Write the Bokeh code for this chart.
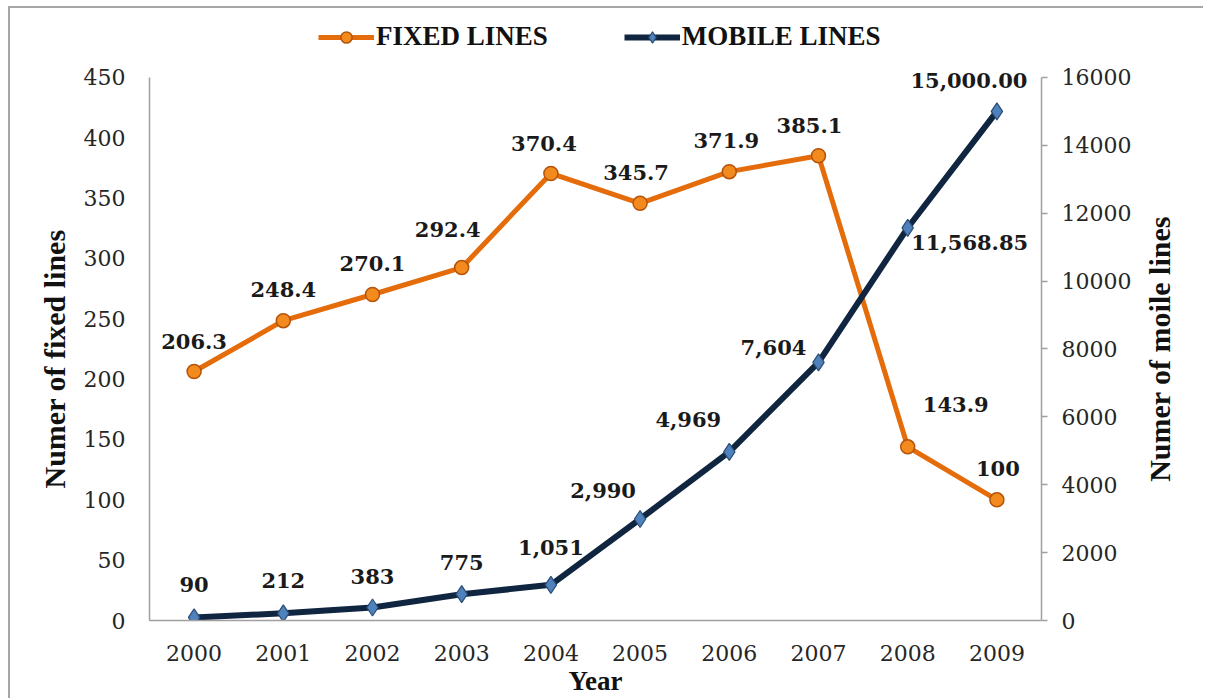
import math
from bokeh.plotting import figure
from bokeh.layouts import row
from bokeh.models import (Range1d, LinearAxis, FactorRange, ColumnDataSource,
                          Legend, LegendItem, FixedTicker)
from bokeh.core.properties import value
from bokeh.embed import file_html
from bokeh.resources import INLINE

# ---------------- data ----------------
years = ["2000", "2001", "2002", "2003", "2004", "2005", "2006", "2007", "2008", "2009"]
fixed_lines = [206.3, 248.4, 270.1, 292.4, 370.4, 345.7, 371.9, 385.1, 143.9, 100]
mobile_lines = [90, 212, 383, 775, 1051, 2990, 4969, 7604, 11568.85, 15000]
fixed_labels = ["206.3", "248.4", "270.1", "292.4", "370.4", "345.7", "371.9", "385.1", "143.9", "100"]
mobile_labels = ["90", "212", "383", "775", "1,051", "2,990", "4,969", "7,604", "11,568.85", "15,000.00"]
fixed_ticks = [0, 50, 100, 150, 200, 250, 300, 350, 400, 450]
mobile_ticks = [0, 2000, 4000, 6000, 8000, 10000, 12000, 14000, 16000]
x_title = "Year"
left_title = "Numer of fixed lines"
right_title = "Numer of moile lines"

# label placement (pixels, style only)
fixed_dx = [0, 0, 0, -14, -7, -4, -3, -9, 48, 1]
fixed_dy = [-30, -31, -31, -38, -30, -31, -31, -30, -42, -31]
mobile_dx = [0, 0, 0, 0, 0, -37, -41, -45, 62, -28]
mobile_dy = [-33, -33, -31, -32, -37, -29, -32, -15, 15, -31]

ORANGE = "#E46C0A"
NAVY = "#10253F"
SERIF = "DejaVu Serif"
TITLE_FONT = "Liberation Serif"
AX_COL = "#A0A0A0"

# geometry: frame spans the full height above the x axis; the y axes are
# bounded so that their lines stop at the top tick (legend sits above)
H = 690
BOTTOM = 77
FRAME_H = H - BOTTOM   # px, frame height
AXIS_H = 544           # px, height of the 0..max axis span
f_top = fixed_ticks[-1] * FRAME_H / AXIS_H
m_top = mobile_ticks[-1] * FRAME_H / AXIS_H
fixed_range = Range1d(0, f_top)
mobile_range = Range1d(0, m_top)

p = figure(width=1058, height=H, output_backend="svg", toolbar_location=None,
           x_range=FactorRange(factors=years, range_padding=0),
           y_range=fixed_range,
           min_border_left=67, min_border_right=97, min_border_top=0, min_border_bottom=BOTTOM)
p.extra_y_ranges = {"mob": mobile_range}
p.outline_line_color = None
p.xgrid.visible = False
p.ygrid.visible = False

src_f = ColumnDataSource(dict(x=years, y=fixed_lines, t=fixed_labels, dx=fixed_dx, dy=fixed_dy))
src_m = ColumnDataSource(dict(x=years, y=mobile_lines, t=mobile_labels, dx=mobile_dx, dy=mobile_dy))

lf = p.line("x", "y", source=src_f, line_color=ORANGE, line_width=5)
sf = p.scatter("x", "y", source=src_f, marker="circle", size=14,
               fill_color="#F28A1E", line_color="#B4530A", line_width=1.5)
lm = p.line("x", "y", source=src_m, y_range_name="mob", line_color=NAVY, line_width=6)
sm = p.scatter("x", "y", source=src_m, y_range_name="mob", marker="diamond", size=17,
               fill_color="#4F81BD", line_color="#2C4D75", line_width=1.2)

for src, rng in ((src_f, "default"), (src_m, "mob")):
    p.text("x", "y", text="t", source=src, y_range_name=rng, x_offset="dx", y_offset="dy",
           text_align="center", text_baseline="alphabetic",
           text_font=value(SERIF), text_font_style="bold", text_font_size="21px",
           text_color="#1a1a1a")

# x axis
xa = p.xaxis[0]
xa.axis_label = x_title
xa.axis_label_text_font = TITLE_FONT
xa.axis_label_text_font_style = "bold"
xa.axis_label_text_font_size = "27px"
xa.axis_label_text_color = "#111111"
xa.axis_label_standoff = 2
xa.major_label_text_font = SERIF
xa.major_label_text_font_size = "22px"
xa.major_label_text_color = "#262626"
xa.major_label_standoff = 18
xa.major_tick_line_color = None
xa.axis_line_color = AX_COL
xa.axis_line_width = 1.5

# left y axis
ya = p.yaxis[0]
ya.ticker = FixedTicker(ticks=fixed_ticks)
ya.bounds = (fixed_ticks[0], fixed_ticks[-1])
ya.major_label_text_font = SERIF
ya.major_label_text_font_size = "22px"
ya.major_label_text_color = "#262626"
ya.major_label_standoff = 18
ya.major_tick_line_color = None
ya.minor_tick_line_color = None
ya.axis_line_color = AX_COL
ya.axis_line_width = 1.5

# right y axis
ra = LinearAxis(y_range_name="mob", ticker=FixedTicker(ticks=mobile_ticks))
ra.bounds = (mobile_ticks[0], mobile_ticks[-1])
ra.major_label_text_font = SERIF
ra.major_label_text_font_size = "22px"
ra.major_label_text_color = "#262626"
ra.major_label_standoff = 14
ra.major_tick_out = 6
ra.major_tick_in = 0
ra.major_tick_line_color = AX_COL
ra.major_tick_line_width = 1.5
ra.minor_tick_line_color = None
ra.axis_line_color = AX_COL
ra.axis_line_width = 1.5
p.add_layout(ra, "right")

legend = Legend(items=[LegendItem(label="FIXED LINES", renderers=[lf, sf]),
                       LegendItem(label="MOBILE LINES", renderers=[lm, sm])],
                orientation="horizontal", location=(169, FRAME_H - 45),
                label_text_font=TITLE_FONT, label_text_font_style="bold",
                label_text_font_size="27px", label_text_color="#111111",
                glyph_width=56, glyph_height=28, label_height=28,
                label_standoff=2, spacing=76, padding=0, margin=0,
                border_line_color=None, background_fill_alpha=0)
p.add_layout(legend, "center")


# side strips carrying the rotated y-axis titles, centred on each axis span
def title_strip(width, x_range, y_range, text, y_mid, y_shift):
    f = figure(width=width, height=H, output_backend="svg", toolbar_location=None,
               x_range=x_range, y_range=y_range,
               x_axis_location=None, y_axis_location=None,
               min_border_left=0, min_border_right=0, min_border_top=0,
               min_border_bottom=BOTTOM)
    f.outline_line_color = None
    f.xgrid.visible = False
    f.ygrid.visible = False
    src = ColumnDataSource(dict(x=[0], y=[y_mid], t=[text]))
    f.text("x", "y", text="t", source=src, angle=math.pi / 2, y_offset=y_shift,
           text_align="center", text_baseline="middle",
           text_font=value(TITLE_FONT), text_font_style="bold", text_font_size="30px",
           text_color="#111111")
    return f


left = title_strip(70, Range1d(-44, 26), fixed_range, left_title,
                   (fixed_ticks[0] + fixed_ticks[-1]) / 2, 10)
right = title_strip(65, Range1d(-21, 44), mobile_range, right_title,
                    (mobile_ticks[0] + mobile_ticks[-1]) / 2, 0)

layout = row(left, p, right, spacing=0)
layout.styles = {"margin-left": "8px", "margin-top": "6px",
                 "border-left": "2px solid #A6A6A6", "border-top": "2px solid #A6A6A6"}

open("out.html", "w").write(file_html(layout, INLINE))
